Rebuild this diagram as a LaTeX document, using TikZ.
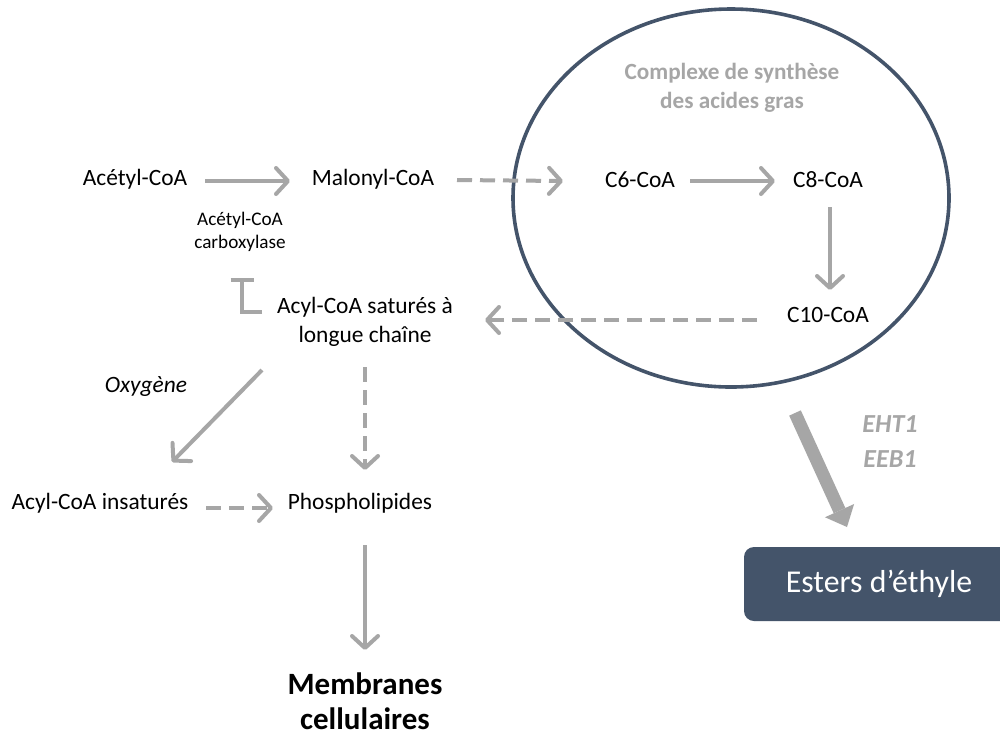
\documentclass[tikz,border=0pt]{standalone}
\usepackage{fontspec}
\setmainfont{Carlito}
\usetikzlibrary{arrows.meta,shapes.geometric}
\definecolor{arrgray}{HTML}{A6A6A6}
\definecolor{slate}{HTML}{44546A}
\begin{document}
\begin{tikzpicture}[x=0.5pt,y=-0.5pt,
  lbl/.style={inner sep=0pt, align=center, font=\fontsize{11.7}{14.5}\selectfont},
  arr/.style={draw=arrgray, line width=2pt, -{Straight Barb[length=6pt,width=13pt,round]}},
  darr/.style={arr, dash pattern=on 7.5pt off 4pt},
  inhib/.style={draw=arrgray, line width=2pt, -{Bar[width=11.5pt]}},
  bigarr/.style={draw=arrgray, line width=6.4pt, -{Triangle[length=9pt,width=16pt,line width=0pt]}},
  ]
\useasboundingbox (0,0) rectangle (1000,735);
\clip (0,0) rectangle (1000,735);
\fill[white] (0,0) rectangle (1000,735);

% ellipse (fatty acid synthase complex)
\node[ellipse, draw=slate, line width=1.8pt, minimum width=218pt, minimum height=189pt, inner sep=0pt] (fas) at (731,198) {};
\node[lbl, font=\bfseries\fontsize{11.6}{14.5}\selectfont, text=arrgray] (fastitle) at (732,88) {Complexe de synthèse\\des acides gras};

% labels
\node[lbl] (acetyl) at (135,179) {Acétyl-CoA};
\node[lbl] (malonyl) at (373,179) {Malonyl-CoA};
\node[lbl, font=\fontsize{9.6}{11.5}\selectfont] (acc) at (240,232) {Acétyl-CoA\\carboxylase};
\node[lbl] (acyl) at (365,322) {Acyl-CoA saturés à\\longue chaîne};
\node[lbl] (c6) at (640,180) {C6-CoA};
\node[lbl] (c8) at (828,180) {C8-CoA};
\node[lbl] (c10) at (828,315) {C10-CoA};
\node[lbl, font=\itshape\fontsize{11.7}{14.5}\selectfont] (oxy) at (146,387) {Oxygène};
\node[lbl] (insat) at (100,503) {Acyl-CoA insaturés};
\node[lbl] (phospho) at (360,503) {Phospholipides};
\node[lbl, font=\bfseries\fontsize{15.5}{17.5}\selectfont] (membr) at (365,701) {Membranes\\cellulaires};
\node[lbl, font=\bfseries\itshape\fontsize{13}{17.5}\selectfont, text=arrgray] (eht) at (890,442) {EHT1\\EEB1};

% esters box
\node[fill=slate, rounded corners=5pt, minimum width=135pt, minimum height=37pt, inner sep=0pt,
      text=white, font=\fontsize{15.9}{19}\selectfont] (esters) at (879,584) {Esters d’éthyle};

% connectors
\draw[arr]  ([shift={(70,2)}]acetyl.center) -- ([shift={(-83,2)}]malonyl.center);
\draw[darr] ([shift={(84,1)}]malonyl.center) -- ([shift={(-77,1)}]c6.center);
\draw[arr]  ([shift={(50,1)}]c6.center) -- ([shift={(-53,1)}]c8.center);
\draw[arr]  ([shift={(2,27)}]c8.center) -- ([shift={(2,-25)}]c10.center);
\draw[darr] ([shift={(-71,5)}]c10.center) -- ([shift={(120,-2)}]acyl.center);
\draw[inhib] ([shift={(-103,-10)}]acyl.center) -| ([shift={(2,46)}]acc.center);
\draw[arr]  ([shift={(-103,48)}]acyl.center) -- ([shift={(72,-41)}]insat.center);
\draw[darr] ([shift={(0,45)}]acyl.center) -- ([shift={(5,-33)}]phospho.center);
\draw[darr] ([shift={(106,5)}]insat.center) -- ([shift={(-87,5)}]phospho.center);
\draw[arr]  ([shift={(5,42)}]phospho.center) -- ([shift={(0,-51)}]membr.center);
\draw[bigarr] ([shift={(64,215)}]fas.center) -- ([shift={(-32,-57)}]esters.center);
\end{tikzpicture}
\end{document}
